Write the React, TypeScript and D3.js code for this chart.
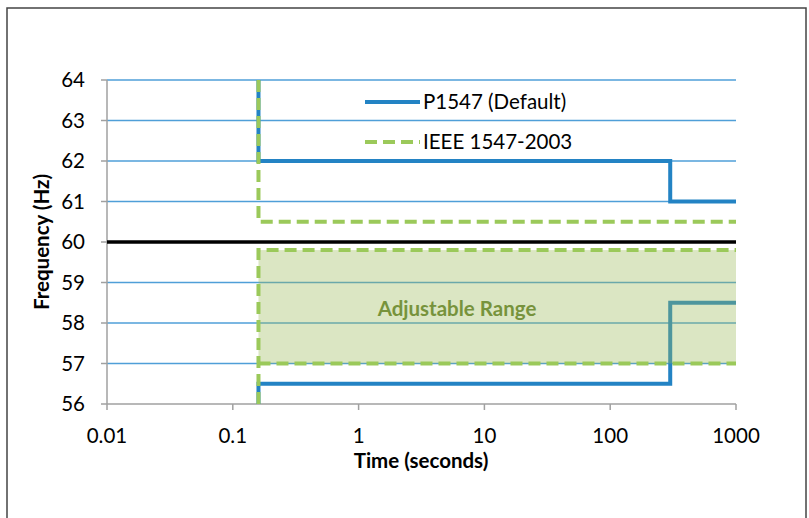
import * as React from 'react'
import * as d3 from 'd3'

// tick values
const timeTicks = [0.01, 0.1, 1, 10, 100, 1000]
const timeTickLabels = ['0.01', '0.1', '1', '10', '100', '1000']
const freqTicks = [56, 57, 58, 59, 60, 61, 62, 63, 64]

// P1547 (Default) trip curves: [time s, frequency Hz]
const p1547High: [number, number][] = [[0.16, 64], [0.16, 62], [300, 62], [300, 61], [1000, 61]]
const p1547Low: [number, number][] = [[0.16, 56], [0.16, 56.5], [300, 56.5], [300, 58.5], [1000, 58.5]]

// IEEE 1547-2003 curves
const ieeeHigh: [number, number][] = [[0.16, 64], [0.16, 60.5], [1000, 60.5]]
const ieeeLow: [number, number][] = [[0.16, 56], [0.16, 59.8], [1000, 59.8]]
const ieeeLowMin: [number, number][] = [[0.16, 57], [1000, 57]]

// adjustable range box
const rangeTime = [0.16, 1000]
const rangeFreq = [57, 59.8]
const nominal = 60

const font = 'Lato, "Open Sans", sans-serif'
const fs = 20.5

const App: React.FC = () => {
	const dims = { width: 809, height: 518, left: 107, right: 736, top: 80, bottom: 404 }

	const x = d3.scaleLog().domain([0.01, 1000]).range([dims.left, dims.right])
	const y = d3.scaleLinear().domain([56, 64]).range([dims.bottom, dims.top])

	const line = d3.line<[number, number]>()
		.x(d => x(d[0]))
		.y(d => y(d[1]))

	const blue = '#2383c4'
	const green = '#9bc95a'
	const grid = '#4f9fd8'

	return (
		<svg width={dims.width} height={dims.height} style={{ position: 'absolute', left: 0, top: 0 }}>
			<rect x={7} y={8} width={799} height={530} fill="white" stroke="#444" strokeWidth={1.5} />

			{/* gridlines */}
			{freqTicks.filter(f => f > 56).map(f => (
				<line key={f} x1={dims.left} x2={dims.right} y1={y(f)} y2={y(f)} stroke={grid} strokeWidth={1.5} />
			))}

			{/* axes */}
			<line x1={dims.left} x2={dims.left} y1={dims.top} y2={dims.bottom} stroke="#a0a0a0" strokeWidth={1.5} />
			<line x1={dims.left} x2={dims.right} y1={dims.bottom} y2={dims.bottom} stroke="#a0a0a0" strokeWidth={1.5} />
			{freqTicks.map(f => (
				<g key={f}>
					<line x1={dims.left - 6} x2={dims.left} y1={y(f)} y2={y(f)} stroke="#a0a0a0" strokeWidth={1.5} />
					<text x={85} y={y(f)} dy="0.35em" textAnchor="end" fontFamily={font} fontSize={fs}>{f}</text>
				</g>
			))}
			{timeTicks.map((t, i) => (
				<g key={t}>
					<line x1={x(t)} x2={x(t)} y1={dims.bottom} y2={dims.bottom + 6} stroke="#a0a0a0" strokeWidth={1.5} />
					<text x={x(t)} y={436} dy="0.35em" textAnchor="middle" fontFamily={font} fontSize={fs}>{timeTickLabels[i]}</text>
				</g>
			))}

			{/* P1547 */}
			<path d={line(p1547High)!} fill="none" stroke={blue} strokeWidth={4} />
			<path d={line(p1547Low)!} fill="none" stroke={blue} strokeWidth={4} />

			{/* adjustable range */}
			<rect x={x(rangeTime[0])} y={y(rangeFreq[1])} width={x(rangeTime[1]) - x(rangeTime[0])}
				height={y(rangeFreq[0]) - y(rangeFreq[1])} fill="#9bbb59" fillOpacity={0.36} />
			<text x={457} y={309} dy="0.35em" textAnchor="middle" fontFamily={font} fontSize={fs}
				fontWeight="bold" fill="#77933c">Adjustable Range</text>

			{/* nominal */}
			<line x1={dims.left} x2={dims.right} y1={y(nominal)} y2={y(nominal)} stroke="black" strokeWidth={3.5} />

			{/* IEEE 1547-2003 */}
			{[ieeeHigh, ieeeLow, ieeeLowMin].map((d, i) => (
				<path key={i} d={line(d)!} fill="none" stroke={green} strokeWidth={4} strokeDasharray="12 6" />
			))}

			{/* legend */}
			<line x1={365} x2={420} y1={102} y2={102} stroke={blue} strokeWidth={4} />
			<text x={423} y={102} dy="0.35em" fontFamily={font} fontSize={fs}>P1547 (Default)</text>
			<line x1={365} x2={420} y1={142} y2={142} stroke={green} strokeWidth={4} strokeDasharray="12 6" />
			<text x={423} y={142} dy="0.35em" fontFamily={font} fontSize={fs}>IEEE 1547-2003</text>

			{/* axis titles */}
			<text x={421} y={461} dy="0.35em" textAnchor="middle" fontFamily={font} fontSize={fs} fontWeight="bold">Time (seconds)</text>
			<text transform={`translate(42, ${(dims.top + dims.bottom) / 2}) rotate(-90)`} dy="0.35em" textAnchor="middle"
				fontFamily={font} fontSize={fs} fontWeight="bold">Frequency (Hz)</text>
		</svg>
	)
}

export default App
